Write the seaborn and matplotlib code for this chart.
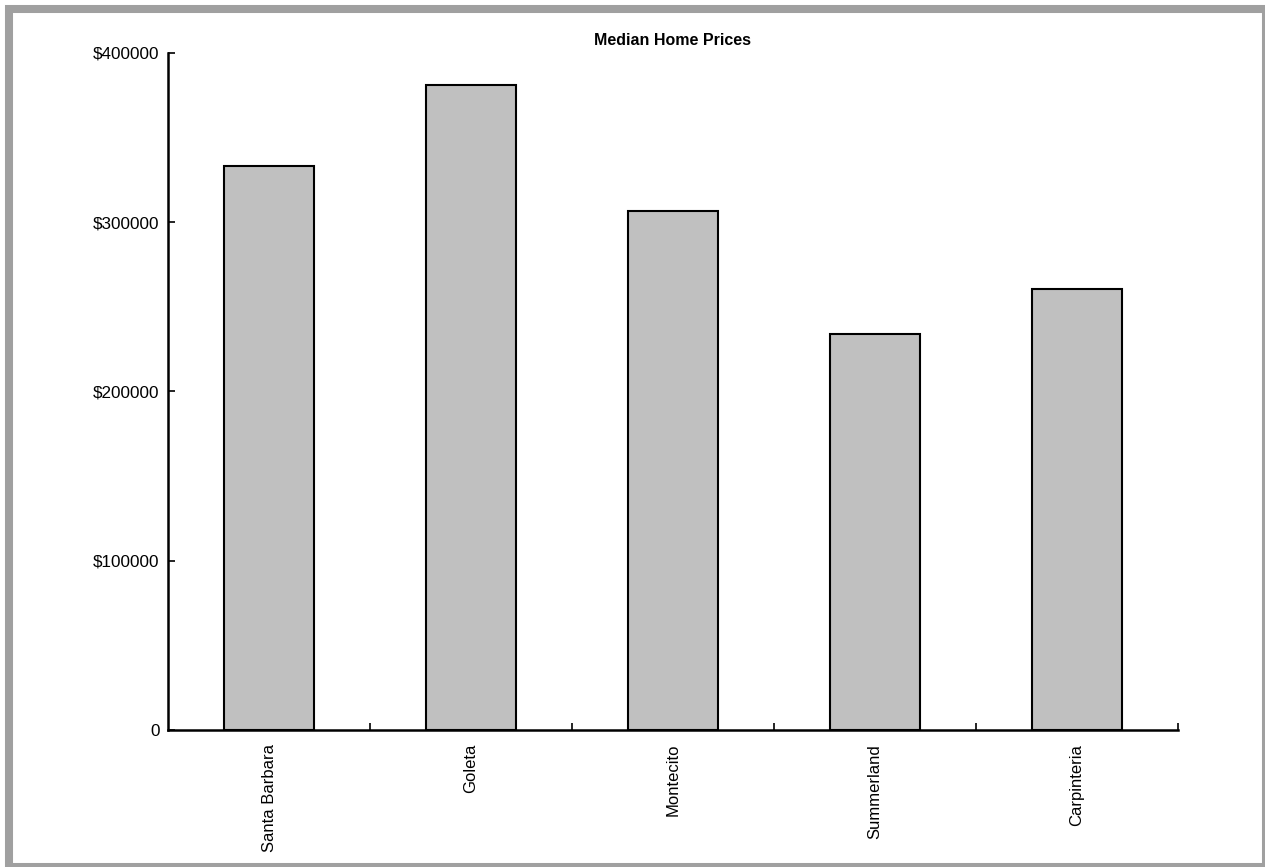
import matplotlib
matplotlib.use("Agg")
import matplotlib.pyplot as plt
import seaborn as sns
import pandas as pd
from matplotlib.patches import Rectangle

towns = ["Santa Barbara", "Goleta", "Montecito", "Summerland", "Carpinteria"]
prices = [333500, 381000, 306700, 233800, 260700]
y_ticks = [0, 100000, 200000, 300000, 400000]
y_tick_labels = ["0", "$100000", "$200000", "$300000", "$400000"]

if __name__ == "__main__":
    sns.set_style("white")
    plt.rcParams["font.family"] = ["Liberation Sans", "DejaVu Sans"]
    plt.rcParams["text.color"] = "black"
    plt.rcParams["xtick.color"] = "black"
    plt.rcParams["ytick.color"] = "black"

    df = pd.DataFrame({"town": towns, "price": prices})

    fig = plt.figure(figsize=(12.65, 8.67), dpi=100)
    ax = fig.add_axes([168 / 1265, 137 / 867, 1010 / 1265, 677 / 867])

    sns.barplot(data=df, x="town", y="price", ax=ax, color="#c0c0c0",
                saturation=1, width=0.445, edgecolor="black", linewidth=1.5)

    ax.set_xlim(-0.5, len(towns) - 0.5)
    ax.set_ylim(0, 400000)
    ax.set_yticks(y_ticks)
    ax.set_yticklabels(y_tick_labels)
    ax.set_xlabel("")
    ax.set_ylabel("")

    # ticks sit between categories on x
    ax.set_xticks([i + 0.5 for i in range(len(towns))])
    ax.set_xticklabels([])
    ax.set_xticks(range(len(towns)), minor=True)
    ax.set_xticklabels(towns, minor=True, rotation=90, fontsize=12)
    ax.tick_params(axis="x", which="minor", bottom=False, pad=8)
    ax.tick_params(axis="x", which="major", bottom=True, direction="in",
                   length=5, width=1.2)
    ax.tick_params(axis="y", left=True, direction="in", length=5, width=1.2,
                   labelsize=12.3, pad=6)

    for side in ["top", "right"]:
        ax.spines[side].set_visible(False)
    for side in ["left", "bottom"]:
        ax.spines[side].set_color("black")
        ax.spines[side].set_linewidth(1.8)

    ax.set_title("Median Home Prices", fontsize=11.5, fontweight="bold", pad=6)

    fig.patches.append(Rectangle((9 / 1265, 0), 1257 / 1265, 858 / 867,
                                 transform=fig.transFigure, fill=False,
                                 edgecolor="#a0a0a0", linewidth=5.8,
                                 clip_on=False))

    fig.savefig("out.png", dpi=100)
